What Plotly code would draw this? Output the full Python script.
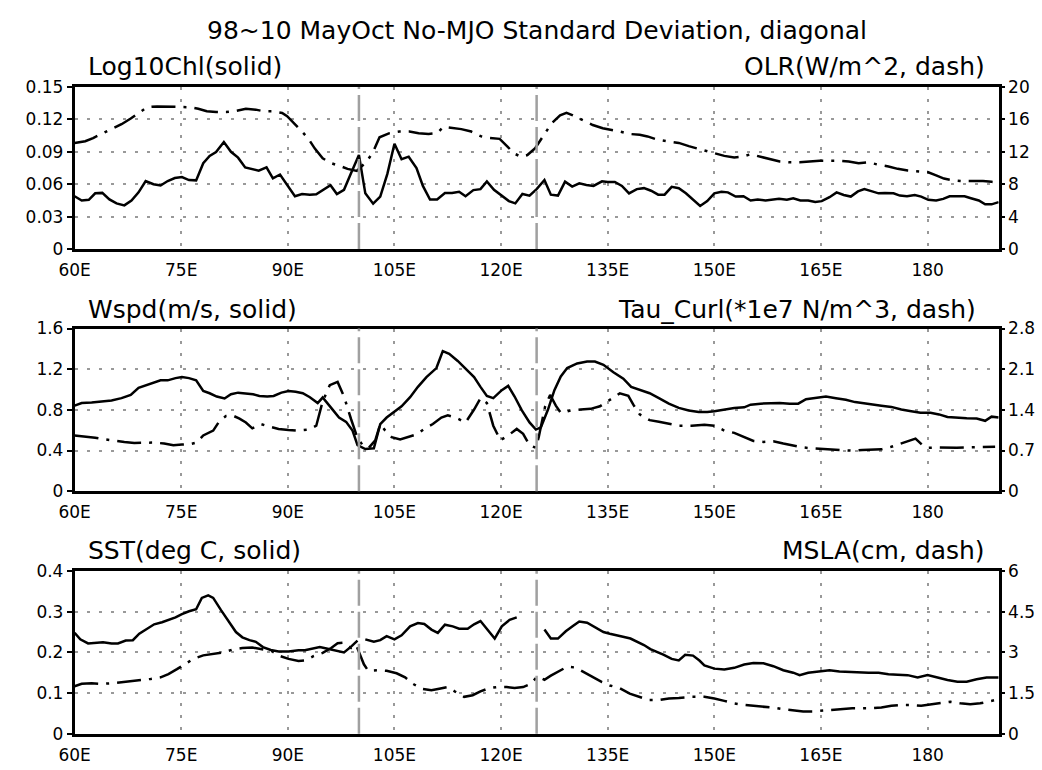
import plotly.graph_objects as go

# ---------------- data ----------------
chl_lon = [60, 61, 62, 62.9, 63.9, 64.9, 65.9, 67, 68, 69, 70, 71.1, 72.1, 73.1, 74.1, 75.1, 76.1, 77.1,
           78.1, 79, 79.9, 81, 82, 83, 84, 84.9, 85.9, 87, 87.9, 88.9, 90, 91, 92, 93.1, 94, 95, 96, 96.9,
           97.9, 98.9, 100, 100.9, 102, 103, 104, 105, 106, 107, 108.1, 109, 110, 111, 112.1, 113.1, 114.1,
           115, 116.1, 117.1, 118, 119, 120, 121.1, 122, 123, 124, 125, 126.1, 127, 128, 129, 130, 131, 132,
           133, 134.2, 135, 136, 137, 138, 139.1, 140.1, 141.1, 142.1, 143, 144, 145, 146, 147, 148, 149,
           150, 151, 151.9, 153, 154.1, 155.1, 156.1, 157.2, 158.1, 159.1, 160.2, 161.1, 162.1, 163.2, 164.2,
           165.1, 166.2, 167.2, 168.2, 169.2, 170.2, 171.1, 172.2, 173.1, 174, 175.2, 176.1, 177.1, 178.2,
           179.1, 180.1, 181.2, 182.2, 183.1, 184.2, 185.2, 186.1, 187.2, 188.1, 189, 190]
chl = [0.0489, 0.045, 0.0456, 0.0516, 0.052, 0.046, 0.0423, 0.0405, 0.045, 0.0525, 0.063, 0.06, 0.0588,
       0.063, 0.0657, 0.0666, 0.0639, 0.0636, 0.0795, 0.0861, 0.0897, 0.099, 0.09, 0.0846, 0.0756, 0.0744,
       0.0726, 0.0756, 0.0654, 0.069, 0.0579, 0.0489, 0.051, 0.0504, 0.0507, 0.0546, 0.0591, 0.051, 0.0549,
       0.0705, 0.087, 0.0516, 0.042, 0.0486, 0.0696, 0.0975, 0.0831, 0.0855, 0.075, 0.0585, 0.0459, 0.0459,
       0.0519, 0.0519, 0.0531, 0.0489, 0.0546, 0.0555, 0.0627, 0.0549, 0.0495, 0.0444, 0.0423, 0.051,
       0.0495, 0.0555, 0.0639, 0.0504, 0.0495, 0.0624, 0.0579, 0.0609, 0.0594, 0.0585, 0.0627, 0.0621,
       0.0621, 0.0585, 0.0516, 0.0555, 0.0564, 0.054, 0.0504, 0.0504, 0.0576, 0.0564, 0.0516, 0.0456,
       0.0399, 0.0444, 0.0516, 0.0531, 0.0525, 0.0486, 0.0489, 0.045, 0.0459, 0.045, 0.0456, 0.0465,
       0.0456, 0.0471, 0.045, 0.045, 0.0435, 0.0444, 0.048, 0.0525, 0.0501, 0.0486, 0.0534, 0.0555,
       0.0534, 0.0516, 0.0519, 0.0516, 0.0495, 0.0489, 0.0501, 0.0486, 0.0456, 0.045, 0.0465, 0.0489,
       0.0489, 0.0489, 0.0471, 0.045, 0.0414, 0.0414, 0.0435]

olr_lon = [60, 61.5, 62.6, 63.8, 65.2, 66.6, 67.9, 69.3, 70.2, 71.6, 73.5, 74.9, 76.2, 77.4, 78.6, 79.9,
           81.3, 82.5, 84.1, 85.5, 86.6, 87.8, 89.2, 89.9, 90.8, 91.9, 92.9, 93.8, 94.9, 96.1, 97.5, 98.4,
           99.7, 101.1, 102, 102.9, 104.3, 105.7, 107.1, 108.4, 109.8, 111, 111.9, 113.1, 114.4, 115.8,
           117.2, 118.4, 119.8, 120.9, 121.8, 122.8, 123.7, 124.8, 126, 127.1, 128.3, 129.2, 130.1, 131.5,
           132.9, 134.3, 135, 136.7, 138.1, 139.5, 140.6, 142, 143.4, 145, 146.4, 147.7, 148.6, 150, 151.4,
           152.8, 153.9, 155.1, 156.5, 157.8, 159.2, 160.6, 162, 163.4, 164.8, 166.2, 167.6, 168.9, 170.3,
           171.7, 173.1, 174.5, 175.8, 177.2, 178.6, 180, 181.2, 182.3, 183.5, 184.8, 186.2, 187.8, 189, 190]
olr = [13.1, 13.3, 13.7, 14.2, 14.8, 15.4, 16.1, 17.0, 17.5, 17.6, 17.56, 17.6, 17.5, 17.3, 17.0, 16.9,
       16.9, 17.0, 17.3, 17.2, 17.0, 17.0, 16.8, 16.4, 15.6, 14.6, 13.6, 12.4, 11.2, 10.6, 10.2, 9.9,
       9.65, 10.8, 12.0, 13.8, 14.3, 14.5, 14.5, 14.3, 14.2, 14.3, 15.1, 15.0, 14.8, 14.5, 13.9, 13.7,
       13.6, 12.65, 11.8, 11.4, 11.6, 12.45, 14.1, 15.5, 16.5, 16.8, 16.5, 15.9, 15.3, 14.9, 14.8, 14.5,
       14.2, 14.1, 13.9, 13.5, 13.3, 13.1, 12.7, 12.4, 12.2, 11.9, 11.5, 11.3, 11.4, 11.7, 11.4, 11.1,
       10.8, 10.7, 10.7, 10.8, 10.9, 10.9, 10.9, 10.8, 10.6, 10.7, 10.4, 10.2, 9.9, 9.7, 9.6, 9.5, 9.1,
       8.7, 8.5, 8.4, 8.4, 8.4, 8.3, 8.2]

wspd_lon = [60, 61, 62.4, 63.8, 65.2, 66.6, 67.9, 69, 70, 71.2, 72.1, 73.1, 74.2, 75.1, 76.1, 77.1, 78.1,
            79, 80, 81.1, 82, 83, 84.1, 85.1, 86, 87.1, 88, 89.1, 90.1, 91.1, 92.1, 93.1, 94.2, 94.9, 96.1,
            97.2, 98.2, 99.1, 99.8, 100.9, 102.1, 103, 103.9, 104.9, 106, 107.2, 108.3, 109.5, 110.9,
            111.8, 112.7, 113.9, 115, 116.2, 117.1, 118, 118.9, 120.1, 121, 121.9, 122.9, 124, 124.9,
            125.6, 126.6, 127.5, 128.4, 129.3, 130.7, 132.1, 133.2, 134.4, 135.8, 137.2, 138.3, 139.5,
            140.9, 142.2, 143.6, 145, 146.4, 147.8, 149, 150, 151.4, 152.8, 154.2, 155.1, 156.5, 157.8,
            159.2, 160.6, 161.8, 162.9, 164.1, 165.7, 167.1, 168.5, 169.8, 171, 172.2, 173.5, 174.9, 176.3,
            177.7, 179, 180.4, 181.6, 182.8, 184.2, 185.5, 186.9, 188.1, 189, 190]
wspd = [0.841, 0.867, 0.873, 0.880, 0.892, 0.915, 0.947, 1.017, 1.042, 1.074, 1.090, 1.090, 1.112, 1.122,
        1.112, 1.090, 0.985, 0.963, 0.931, 0.912, 0.953, 0.969, 0.959, 0.953, 0.937, 0.931, 0.937, 0.969,
        0.985, 0.978, 0.963, 0.924, 0.867, 0.921, 0.819, 0.724, 0.682, 0.596, 0.453, 0.414, 0.421, 0.660,
        0.724, 0.778, 0.835, 0.924, 1.026, 1.122, 1.211, 1.377, 1.351, 1.281, 1.201, 1.122, 1.026,
        0.937, 0.915, 0.994, 1.036, 0.931, 0.797, 0.676, 0.606, 0.628, 0.803, 0.994, 1.128, 1.211,
        1.256, 1.275, 1.275, 1.243, 1.170, 1.106, 1.026, 0.994, 0.963, 0.915, 0.861, 0.819, 0.794,
        0.778, 0.778, 0.787, 0.803, 0.819, 0.825, 0.851, 0.861, 0.867, 0.867, 0.861, 0.861, 0.905,
        0.915, 0.931, 0.915, 0.899, 0.876, 0.867, 0.851, 0.841, 0.829, 0.803, 0.787, 0.771, 0.771,
        0.755, 0.730, 0.720, 0.717, 0.714, 0.692, 0.733, 0.724]

curl_lon = [60, 61.5, 62.9, 64.2, 65.6, 67, 68.4, 69.8, 71.2, 72.6, 73.9, 75.1, 76.2, 77.2, 78.1, 79.5,
            80.4, 81.3, 82.2, 83.2, 84.1, 85, 86.2, 87.3, 88.7, 90.1, 91.5, 92.9, 94, 94.9, 95.9, 97, 97.9,
            98.9, 99.7, 100.5, 101.4, 102.3, 103, 103.7, 104.6, 105.8, 106.9, 108.1, 109.2, 110.4, 111.6,
            112.5, 113.6, 115, 116.2, 117.1, 118, 118.9, 119.9, 121, 122.2, 123.1, 124, 124.9, 125.3,
            126.2, 126.9, 127.7, 128.4, 129.8, 131.2, 132.6, 133.9, 135.3, 136.7, 137.9, 138.6, 139.5,
            140.9, 142.2, 143.6, 145, 146.8, 148.6, 150, 151.4, 152.8, 154.2, 155.5, 156.9, 158.3, 159.7,
            161.1, 162.5, 163.8, 165.2, 166.6, 167.9, 169.3, 170.8, 172.2, 173.5, 174.9, 176.3, 177.4,
            178.3, 179.2, 180.1, 181.3, 182.7, 184.1, 185.5, 186.9, 188.3, 189.5]
curl = [0.959, 0.943, 0.920, 0.892, 0.876, 0.848, 0.831, 0.837, 0.837, 0.820, 0.792, 0.803, 0.809, 0.837,
        0.959, 1.043, 1.210, 1.294, 1.305, 1.249, 1.182, 1.082, 1.155, 1.115, 1.071, 1.054, 1.043, 1.060,
        1.127, 1.545, 1.824, 1.880, 1.629, 1.238, 0.95, 0.792, 0.747, 0.876, 1.155, 1.043, 0.931, 0.892,
        0.931, 0.976, 1.071, 1.155, 1.266, 1.305, 1.266, 1.182, 1.405, 1.601, 1.517, 1.127, 0.876,
        0.959, 1.071, 0.987, 0.792, 0.747, 0.931, 1.461, 1.657, 1.472, 1.350, 1.389, 1.405, 1.417,
        1.461, 1.573, 1.684, 1.640, 1.489, 1.322, 1.222, 1.194, 1.155, 1.127, 1.127, 1.143, 1.127,
        1.043, 1.004, 0.931, 0.865, 0.848, 0.859, 0.820, 0.781, 0.753, 0.736, 0.725, 0.708, 0.697,
        0.697, 0.708, 0.720, 0.720, 0.764, 0.820, 0.876, 0.904, 0.803, 0.747, 0.753, 0.747, 0.747,
        0.753, 0.759, 0.764, 0.764]

sst_lon = [60, 60.8, 61.9, 63.1, 64, 65.2, 66.1, 67.2, 68.2, 69.1, 70.2, 71.2, 72.3, 73.2, 74.2, 75.1,
           76.1, 77.1, 77.9, 78.8, 79.5, 80.6, 81.8, 82.7, 83.6, 84.6, 85.5, 86.5, 87.6, 88.7, 90.1, 91.5,
           92.4, 93.6, 94.5, 95.6, 96.6, 97.9, 98.9, 99.8, 100.4, 100.9, 102.1, 103, 103.9, 105, 106,
           107.2, 108.3, 109.2, 110.2, 111.1, 112.1, 113.2, 114.1, 115.3, 116.2, 117.1, 118, 119.1, 120.1,
           121.2, 122.2, 124, 126.1, 127, 128, 129.1, 130.1, 131, 132.1, 133.2, 134.4, 135.3, 136.5,
           137.3, 138.2, 139.2, 140.1, 141, 141.9, 142.9, 144, 145, 145.9, 147, 147.9, 148.6, 150, 151.4,
           152.8, 154.2, 155.5, 156.9, 158.3, 159.7, 161.1, 162, 163.2, 164.8, 166.2, 167.6, 168.9,
           170.3, 171.7, 173.1, 174.5, 175.8, 177.2, 178.6, 180, 181.4, 182.8, 184.2, 185.5, 186.9,
           188.3, 190]
sst = [0.248, 0.232, 0.222, 0.224, 0.225, 0.222, 0.222, 0.229, 0.230, 0.246, 0.258, 0.269, 0.274, 0.280,
       0.286, 0.294, 0.301, 0.306, 0.334, 0.340, 0.334, 0.304, 0.274, 0.250, 0.237, 0.230, 0.226, 0.213,
       0.206, 0.202, 0.202, 0.205, 0.205, 0.210, 0.213, 0.209, 0.205, 0.200, 0.214, 0.229, None, 0.232,
       0.226, 0.230, 0.240, 0.232, 0.242, 0.264, 0.272, 0.270, 0.256, 0.248, 0.268, 0.264, 0.258,
       0.258, 0.269, 0.277, 0.258, 0.234, 0.264, 0.280, 0.286, None, 0.256, 0.234, 0.234, 0.252,
       0.265, 0.276, 0.273, 0.261, 0.250, 0.246, 0.242, 0.238, 0.234, 0.226, 0.218, 0.208, 0.202,
       0.194, 0.184, 0.180, 0.194, 0.192, 0.180, 0.168, 0.160, 0.158, 0.162, 0.170, 0.174, 0.173,
       0.166, 0.156, 0.150, 0.144, 0.150, 0.154, 0.156, 0.153, 0.152, 0.150, 0.150, 0.150, 0.146,
       0.145, 0.144, 0.138, 0.144, 0.138, 0.132, 0.128, 0.128, 0.134, 0.138, 0.138]

msla_lon = [60, 61, 62.4, 63.8, 65.2, 66.6, 67.9, 69.3, 70.7, 72.1, 73.2, 74.4, 75.6, 76.7, 78.1, 79.5,
            80.9, 82.2, 83.6, 85, 86.4, 87.8, 88.7, 90.1, 91.5, 92.4, 93.6, 94.9, 96.1, 97, 97.9, 98.9,
            99.6, 100, 100.7, 101.3, 102.6, 103.9, 105.3, 106.5, 107.6, 108.8, 110.2, 111.3, 112.5,
            113.6, 114.8, 116, 117.1, 118.3, 119.4, 120.8, 121.9, 123.1, 124.2, 125.1, 126.1, 127, 128.2,
            129.3, 130.5, 131.6, 133, 134.2, 135.3, 136.7, 138.1, 139.5, 140.8, 142.2, 143.6, 145, 146.9,
            148.6, 150, 151.4, 152.8, 154.2, 155.5, 156.9, 158.3, 159.7, 161.1, 162.5, 163.8, 165.2,
            166.6, 167.9, 169.4, 170.8, 172.2, 173.5, 174.9, 176.3, 177.7, 179.1, 180.5, 181.9, 183.2,
            184.6, 186, 187.4, 188.5, 189.5]
msla = [1.75, 1.84, 1.86, 1.84, 1.86, 1.90, 1.93, 1.98, 2.02, 2.08, 2.20, 2.38, 2.58, 2.76, 2.89, 2.95,
        3.0, 3.10, 3.16, 3.18, 3.10, 3.04, 2.88, 2.76, 2.68, 2.70, 2.86, 2.98, 3.16, 3.34, 3.36, 3.16,
        3.28, 3.0, 2.56, 2.32, 2.34, 2.32, 2.23, 2.08, 1.84, 1.66, 1.60, 1.66, 1.72, 1.54, 1.36, 1.42,
        1.56, 1.68, 1.72, 1.72, 1.69, 1.72, 1.84, 2.11, 1.99, 2.14, 2.32, 2.47, 2.44, 2.28, 2.08, 1.90,
        1.78, 1.68, 1.48, 1.36, 1.24, 1.24, 1.30, 1.32, 1.36, 1.36, 1.30, 1.21, 1.12, 1.06, 1.03, 1.0,
        0.96, 0.90, 0.85, 0.82, 0.82, 0.85, 0.90, 0.91, 0.94, 0.94, 0.94, 0.97, 1.03, 1.06, 1.06, 1.03,
        1.08, 1.12, 1.18, 1.12, 1.09, 1.12, 1.18, 1.24]

x_ticks = [60, 75, 90, 105, 120, 135, 150, 165, 180]
x_labels = ["60E", "75E", "90E", "105E", "120E", "135E", "150E", "165E", "180"]
y1_ticks = [0, 0.03, 0.06, 0.09, 0.12, 0.15]
y1_labels = ["0", "0.03", "0.06", "0.09", "0.12", "0.15"]
y2_ticks = [0, 4, 8, 12, 16, 20]
y3_ticks = [0, 0.4, 0.8, 1.2, 1.6]
y3_labels = ["0", "0.4", "0.8", "1.2", "1.6"]
y4_ticks = [0, 0.7, 1.4, 2.1, 2.8]
y4_labels = ["0", "0.7", "1.4", "2.1", "2.8"]
y5_ticks = [0, 0.1, 0.2, 0.3, 0.4]
y5_labels = ["0", "0.1", "0.2", "0.3", "0.4"]
y6_ticks = [0, 1.5, 3, 4.5, 6]
y6_labels = ["0", "1.5", "3", "4.5", "6"]
split_lons = [100, 125]

title_text = "98~10 MayOct No-MJO Standard Deviation, diagonal"
left_labels = ["Log10Chl(solid)", "Wspd(m/s, solid)", "SST(deg C, solid)"]
right_labels = ["OLR(W/m^2, dash)", "Tau_Curl(*1e7 N/m^3, dash)", "MSLA(cm, dash)"]

# ---------------- layout geometry ----------------
W, H = 1042, 770
FONT = "DejaVu Sans"
xdom = [59.5 / W, 998 / W]
panels_px = [(79, 245.5), (327, 494), (576, 743)]
ydoms = [[1 - b / H, 1 - t / H] for t, b in panels_px]
label_y_px = [58, 307, 555]
right_end_px = [986, 977, 986]

GRID = dict(showgrid=True, gridcolor="#999999", gridwidth=1.5, griddash="3px,9px")
TICKFONT = dict(family=FONT, size=17, color="black")

fig = go.Figure()
DASHDOT = "24px,8px,3px,8px"


def add_line(x, y, xa, ya, dash):
    fig.add_trace(go.Scatter(x=x, y=y, xaxis=xa, yaxis=ya, mode="lines",
                             line=dict(color="black", width=2.5, dash=dash),
                             connectgaps=False, showlegend=False, hoverinfo="skip"))


add_line(chl_lon, chl, "x", "y", "solid")
add_line(olr_lon, olr, "x", "y2", DASHDOT)
add_line(wspd_lon, wspd, "x2", "y3", "solid")
add_line(curl_lon, curl, "x2", "y4", DASHDOT)
add_line(sst_lon, sst, "x3", "y5", "solid")
add_line(msla_lon, msla, "x3", "y6", DASHDOT)

layout = dict(width=W, height=H, margin=dict(l=0, r=0, t=0, b=0),
              paper_bgcolor="white", plot_bgcolor="white", showlegend=False)

left_specs = [(y1_ticks, y1_labels, [0, 0.15]), (y3_ticks, y3_labels, [0, 1.6]), (y5_ticks, y5_labels, [0, 0.4])]
right_specs = [(y2_ticks, [str(v) for v in y2_ticks], [0, 20]), (y4_ticks, y4_labels, [0, 2.8]),
               (y6_ticks, y6_labels, [0, 6])]

for i in range(3):
    xn = "xaxis" if i == 0 else f"xaxis{i + 1}"
    yl_id = 2 * i + 1
    yr_id = 2 * i + 2
    yl_name = "yaxis" if yl_id == 1 else f"yaxis{yl_id}"
    yr_name = f"yaxis{yr_id}"
    yl_ref = "y" if yl_id == 1 else f"y{yl_id}"
    x_ref = "x" if i == 0 else f"x{i + 1}"
    layout[xn] = dict(domain=xdom, anchor=yl_ref, range=[60, 190], tickmode="array",
                      tickvals=x_ticks, ticktext=x_labels, ticks="", showline=True,
                      linecolor="black", linewidth=2.5, mirror=True, zeroline=False,
                      tickfont=TICKFONT, ticklabelstandoff=4, fixedrange=True, **GRID)
    lt, ll, lr = left_specs[i]
    layout[yl_name] = dict(domain=ydoms[i], anchor=x_ref, range=lr, tickmode="array",
                           tickvals=lt, ticktext=ll, ticks="outside", ticklen=5, tickwidth=2,
                           tickcolor="black", showline=True, linecolor="black", linewidth=2.5,
                           mirror=True, zeroline=False, tickfont=TICKFONT, fixedrange=True, **GRID)
    rt, rl, rr = right_specs[i]
    layout[yr_name] = dict(overlaying=yl_ref, anchor=x_ref, side="right", range=rr, tickmode="array",
                           tickvals=rt, ticktext=rl, ticks="outside", ticklen=5, tickwidth=2,
                           tickcolor="black", showline=False, showgrid=False, zeroline=False,
                           tickfont=TICKFONT, fixedrange=True)

shapes = []
for i in range(3):
    x_ref = "x" if i == 0 else f"x{i + 1}"
    yl_id = 2 * i + 1
    yl_ref = "y" if yl_id == 1 else f"y{yl_id}"
    for lon in split_lons:
        shapes.append(dict(type="line", xref=x_ref, yref=f"{yl_ref} domain", x0=lon, x1=lon, y0=0, y1=1,
                           line=dict(color="#a0a0a0", width=2.5, dash="26px,6px"), layer="above"))
layout["shapes"] = shapes

ann = [dict(text=title_text, xref="paper", yref="paper", x=529 / W, y=1 - 21 / H, xanchor="center",
            yanchor="middle", showarrow=False, font=dict(family=FONT, size=25, color="black"))]
for i in range(3):
    yy = 1 - label_y_px[i] / H
    ann.append(dict(text=left_labels[i], xref="paper", yref="paper", x=71 / W, y=yy, xanchor="left",
                    yanchor="middle", showarrow=False, font=dict(family=FONT, size=25, color="black")))
    ann.append(dict(text=right_labels[i], xref="paper", yref="paper", x=right_end_px[i] / W, y=yy,
                    xanchor="right", yanchor="middle", showarrow=False,
                    font=dict(family=FONT, size=25, color="black")))
layout["annotations"] = ann

fig.update_layout(**layout)
fig.write_html("out.html", post_script="document.body.style.margin='0px';")
